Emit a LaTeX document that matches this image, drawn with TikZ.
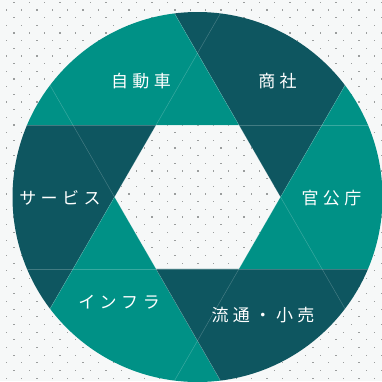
\documentclass[tikz,border=0pt]{standalone}
\usepackage{fontspec}
\newfontfamily\jpfont{Noto Sans CJK JP}
\usetikzlibrary{calc}
\definecolor{bgc}{RGB}{246,248,248}
\definecolor{dotc}{RGB}{155,158,158}
\definecolor{tgreen}{RGB}{0,145,134}
\definecolor{tdark}{RGB}{14,86,96}
\newcommand\jsp{\hspace{4.5pt}}
\begin{document}
\begin{tikzpicture}[x=1pt,y=1pt,
  lbl/.style={text=white,font=\jpfont\fontsize{17}{17}\selectfont,inner sep=0pt,anchor=center},
  greenblade/.style={fill=tgreen},
  darkblade/.style={fill=tdark},
  faintline/.style={draw=white,draw opacity=0.22,line width=0.5pt}]
\useasboundingbox (0,-381) rectangle (382,0);
\fill[bgc] (0,-381) rectangle (382,0);
% dotted background
\foreach \j in {0,...,49}{
  \pgfmathsetmacro\yy{-(2.33+7.67*\j)}
  \pgfmathsetmacro\off{14-7.67*mod(\j,2)}
  \foreach \i in {0,...,25}{
    \fill[dotc] (\off+15.33*\i-0.6,\yy-0.6) rectangle ++(1.2,1.2);
  }
}
% geometry
\coordinate (C) at (197.5,-197);
\foreach \k in {0,...,5}{
  \coordinate (V\k) at ($(C)+(60*\k:83)$);
}
\begin{scope}
\clip (C) circle (185);
\fill[darkblade]  (V0) -- ($(V0)+(60:500)$)  -- ($(V0)+(120:500)$) -- cycle;
\fill[greenblade] (V1) -- ($(V1)+(120:500)$) -- ($(V1)+(180:500)$) -- cycle;
\fill[darkblade]  (V2) -- ($(V2)+(180:500)$) -- ($(V2)+(240:500)$) -- cycle;
\fill[greenblade] (V3) -- ($(V3)+(240:500)$) -- ($(V3)+(300:500)$) -- cycle;
\fill[darkblade]  (V4) -- ($(V4)+(300:500)$) -- ($(V4)+(360:500)$) -- cycle;
\fill[greenblade] (V5) -- ($(V5)+(0:500)$)   -- ($(V5)+(60:500)$) -- cycle;
\draw[faintline] ($(V0)!-6!(V1)$) -- ($(V0)!7!(V1)$);
\draw[faintline] ($(V1)!-6!(V2)$) -- ($(V1)!7!(V2)$);
\draw[faintline] ($(V2)!-6!(V3)$) -- ($(V2)!7!(V3)$);
\draw[faintline] ($(V3)!-6!(V4)$) -- ($(V3)!7!(V4)$);
\draw[faintline] ($(V4)!-6!(V5)$) -- ($(V4)!7!(V5)$);
\draw[faintline] ($(V5)!-6!(V0)$) -- ($(V5)!7!(V0)$);
\end{scope}
% labels
\node[lbl] (jidousha) at (141,-81) {自\jsp 動\jsp 車};
\node[lbl] (shousha) at (277.5,-81) {商\jsp 社};
\node[lbl] (kankoucho) at (331.5,-198) {官\jsp 公\jsp 庁};
\node[lbl] (service) at (60,-197.5) {サ\jsp ー\jsp ビ\jsp ス};
\node[lbl] (infra) at (119,-302.5) {イ\jsp ン\jsp フ\jsp ラ};
\node[lbl] (ryutsu) at (263,-315) {流\jsp 通\jsp ・\jsp 小\jsp 売};
\end{tikzpicture}
\end{document}
